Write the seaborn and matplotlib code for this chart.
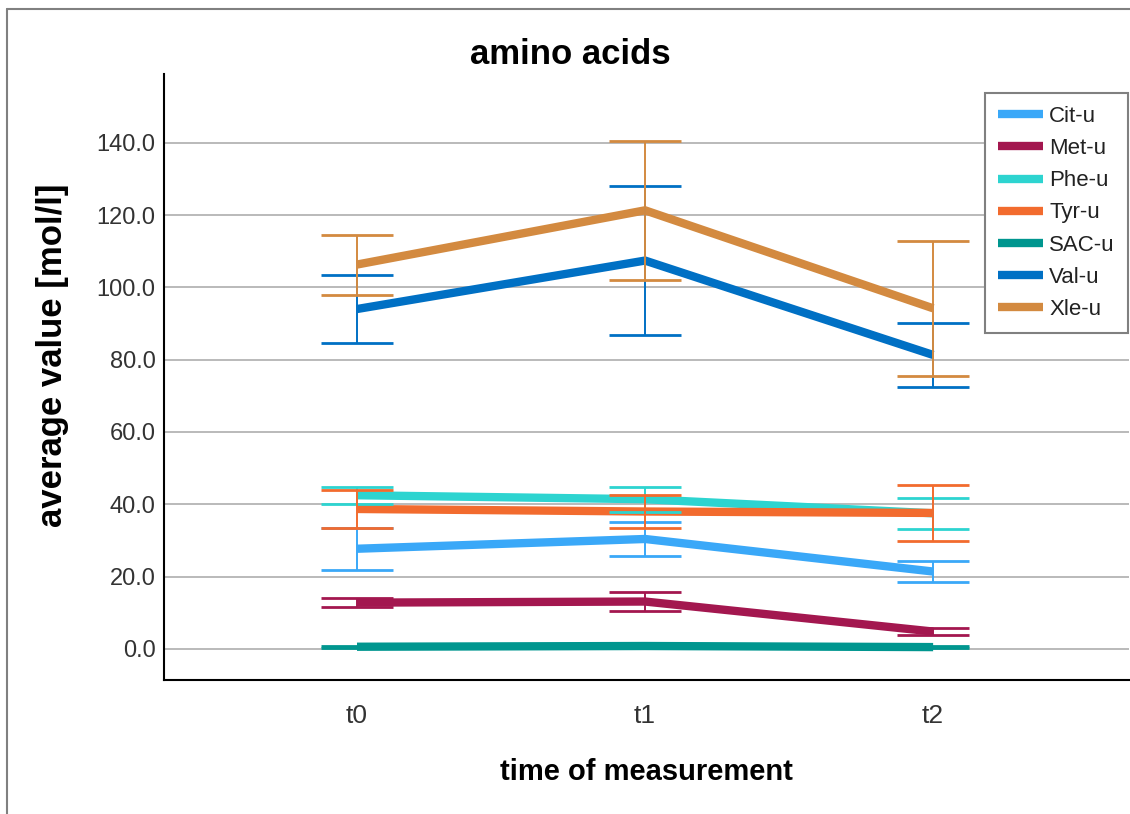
import numpy as np
import pandas as pd
import matplotlib
matplotlib.use("Agg")
import matplotlib.pyplot as plt
from matplotlib.lines import Line2D
import seaborn as sns

# Measurement times and urine amino acid means with error half-widths
times = ["t0", "t1", "t2"]
series = ["Cit-u", "Met-u", "Phe-u", "Tyr-u", "SAC-u", "Val-u", "Xle-u"]

cit_mean = [27.7, 30.4, 21.4]
cit_err = [5.8, 4.7, 2.9]
met_mean = [12.8, 13.1, 4.8]
met_err = [1.3, 2.6, 1.0]
phe_mean = [42.5, 41.4, 37.5]
phe_err = [2.4, 3.5, 4.3]
tyr_mean = [38.7, 38.0, 37.6]
tyr_err = [5.3, 4.6, 7.7]
sac_mean = [0.6, 0.8, 0.5]
sac_err = [0.3, 0.3, 0.3]
val_mean = [94.0, 107.4, 81.3]
val_err = [9.3, 20.5, 8.9]
xle_mean = [106.3, 121.3, 94.2]
xle_err = [8.3, 19.2, 18.7]

colors = ["#3AA8F8", "#A3174F", "#2DD4D0", "#F26B2E", "#00968F", "#0070C4", "#D38A40"]

means = [cit_mean, met_mean, phe_mean, tyr_mean, sac_mean, val_mean, xle_mean]
errs = [cit_err, met_err, phe_err, tyr_err, sac_err, val_err, xle_err]

rows = []
for name, m, e in zip(series, means, errs):
    for i, t in enumerate(times):
        rows.append({"series": name, "time": t, "pos": i, "value": m[i], "err": e[i]})
df = pd.DataFrame(rows)

sns.set_theme(style="white")
plt.rcParams["font.family"] = ["Liberation Sans", "DejaVu Sans"]

fig = plt.figure(figsize=(11.3, 8.14), dpi=100)
ax = fig.add_axes([164 / 1130, 1 - 680 / 814, (1129 - 164) / 1130, (680 - 74) / 814])

palette = dict(zip(series, colors))
sns.lineplot(data=df, x="pos", y="value", hue="series", hue_order=series,
             palette=palette, linewidth=6, errorbar=None, sort=False,
             ax=ax, zorder=3, legend=False)
for ln in ax.lines:
    ln.set_solid_capstyle("butt")
    ln.set_solid_joinstyle("miter")

for name in series:
    sub = df[df["series"] == name]
    ax.errorbar(sub["pos"], sub["value"], yerr=sub["err"], fmt="none",
                ecolor=palette[name], elinewidth=1.4, capsize=26, capthick=2.0,
                zorder=4)

ax.set_xlim(-0.67, 2.68)
ax.set_ylim(-8.6, 159)
ax.set_xticks(range(len(times)))
ax.set_xticklabels(times)
ax.set_yticks(np.arange(0, 141, 20))
ax.set_yticklabels([f"{v:.1f}" for v in np.arange(0, 141, 20)])
ax.tick_params(axis="both", length=0, labelsize=17, labelcolor="#333333")
ax.tick_params(axis="x", pad=17, labelsize=19)
ax.tick_params(axis="y", pad=6)

ax.yaxis.grid(True, color="#b4b4b4", linewidth=1.3, zorder=0)
ax.xaxis.grid(False)
ax.set_axisbelow(True)
for side in ["top", "right"]:
    ax.spines[side].set_visible(False)
for side in ["left", "bottom"]:
    ax.spines[side].set_color("black")
    ax.spines[side].set_linewidth(1.5)

fig.text(570 / 1130, 1 - 55 / 814, "amino acids", fontsize=25, fontweight="bold",
         color="black", ha="center", va="center")
ax.set_xlabel("time of measurement", fontsize=21, fontweight="bold", color="black",
              labelpad=22)
ax.set_ylabel("average value [mol/l]", fontsize=25, fontweight="bold", color="black",
              va="center")
ax.yaxis.set_label_coords(-0.116, 0.536)

handles = [Line2D([0], [0], color=c, linewidth=6, solid_capstyle="butt") for c in colors]
leg = ax.legend(handles, series, loc="upper right", bbox_to_anchor=(0.999, 0.969),
                fontsize=16, frameon=True, fancybox=False, framealpha=1,
                handlelength=2.0, handletextpad=0.3, labelspacing=0.5,
                borderpad=0.6, borderaxespad=0)
leg.get_frame().set_edgecolor("#808080")
leg.get_frame().set_linewidth(1.5)
for txt in leg.get_texts():
    txt.set_color("#222222")

# Outer frame of the figure (left and top edges)
fig.add_artist(Line2D([7 / 1130, 7 / 1130], [0, 1 - 9 / 814], transform=fig.transFigure,
                      color="#808080", linewidth=1.5))
fig.add_artist(Line2D([7 / 1130, 1], [1 - 9 / 814, 1 - 9 / 814], transform=fig.transFigure,
                      color="#808080", linewidth=1.5))

fig.savefig("out.png", dpi=100, facecolor="white")
